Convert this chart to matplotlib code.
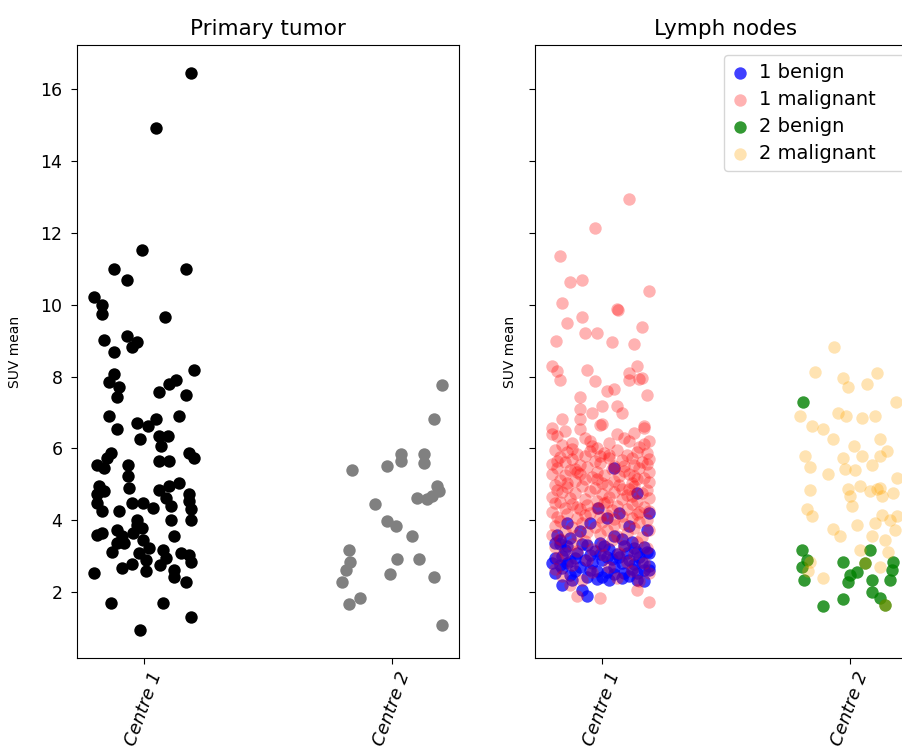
import matplotlib
matplotlib.use("Agg")
import matplotlib.pyplot as plt

# ---------------- data ----------------
centres = ["Centre 1", "Centre 2"]
titles = ["Primary tumor", "Lymph nodes"]
ylabel = "SUV mean"
yticks = [2, 4, 6, 8, 10, 12, 14, 16]

# Primary tumor, Centre 1 (value, jitter offset)
pt_c1_y = [16.45, 14.93, 11.53, 11.0, 11.0, 10.69, 10.21, 9.98, 9.74, 9.65, 9.02, 9.14, 8.97,
           8.81, 8.69, 8.18, 8.07, 7.84, 7.70, 7.42, 7.58, 7.79, 7.90, 7.49, 6.90, 6.55, 6.72,
           6.62, 6.83, 6.90, 6.25, 6.34, 6.34, 6.06, 5.65, 5.65, 5.88, 5.74, 5.88, 5.74, 5.55,
           5.46, 5.55, 5.23, 4.90, 4.95, 4.72, 4.81, 4.48, 4.25, 4.25, 4.48, 4.48, 4.34, 4.85,
           4.95, 5.04, 4.62, 4.39, 4.02, 4.72, 4.53, 4.30, 4.02, 4.02, 3.78, 3.60, 3.64, 3.74,
           3.55, 3.37, 3.13, 3.37, 3.64, 3.88, 3.46, 3.23, 3.09, 2.90, 2.58, 2.79, 2.67, 3.55,
           3.18, 2.95, 2.76, 2.62, 2.43, 3.09, 3.04, 2.85, 2.29, 2.53, 1.70, 1.70, 1.30, 0.94]
pt_c1_dx = [0.19, 0.05, -0.01, -0.12, 0.17, -0.07, -0.20, -0.17, -0.17, 0.085, -0.16, -0.07, -0.03,
            -0.05, -0.12, 0.20, -0.12, -0.14, -0.10, -0.11, 0.06, 0.10, 0.13, 0.17, -0.14, -0.11, -0.03,
            0.015, 0.05, 0.14, -0.015, 0.06, 0.095, 0.07, 0.06, 0.10, 0.18, 0.20, -0.135, -0.15, -0.19,
            -0.16, -0.065, -0.065, -0.06, -0.18, -0.19, -0.16, -0.19, -0.17, -0.10, -0.05, -0.005, 0.035, 0.06,
            0.10, 0.14, 0.09, 0.11, 0.11, 0.18, 0.18, 0.19, 0.19, -0.03, -0.01, -0.19, -0.17, -0.11,
            -0.09, -0.11, -0.13, -0.08, -0.045, -0.03, -0.005, 0.02, -0.02, 0.01, 0.01, -0.05, -0.09, 0.12,
            0.075, 0.09, 0.065, 0.12, 0.12, 0.15, 0.18, 0.19, 0.17, -0.20, -0.135, 0.075, 0.19, -0.015]

# Primary tumor, Centre 2
pt_c2_y = [7.76, 6.81, 5.40, 5.51, 5.84, 5.65, 5.84, 5.60, 4.95, 4.81, 4.62, 4.58, 4.67, 4.46,
           3.97, 3.83, 3.55, 3.18, 2.85, 2.62, 2.27, 2.93, 2.93, 2.51, 2.41, 1.84, 1.67, 1.08]
pt_c2_dx = [0.20, 0.17, -0.16, -0.02, 0.036, 0.036, 0.13, 0.13, 0.18, 0.19, 0.10, 0.14, 0.16, -0.07,
            -0.02, 0.016, 0.08, -0.175, -0.17, -0.185, -0.20, 0.02, 0.11, -0.01, 0.17, -0.13, -0.175, 0.20]

# Lymph nodes, Centre 1 benign
ln_c1_ben_y = [5.46, 4.76, 4.34, 4.20, 4.20, 3.92, 3.92, 3.83, 3.74, 3.37, 3.27, 3.09, 3.37, 3.55,
               3.27, 3.13, 3.09, 2.80, 2.80, 2.71, 2.80, 2.99, 2.99, 2.90, 2.99, 2.62, 2.53, 2.20,
               2.34, 2.43, 2.43, 2.34, 2.53, 2.34, 2.62, 2.06, 1.88, 3.45, 3.30, 3.20, 3.05, 2.95,
               2.88, 2.70, 2.65, 2.60, 2.85, 2.75, 2.50, 2.58, 3.15, 3.40, 3.00, 2.45, 3.60, 3.25,
               2.90, 4.05, 3.70,
               3.50, 3.35, 3.28, 3.18, 3.10, 3.02, 2.92, 2.82, 2.78, 2.68, 2.62, 2.55, 2.48, 2.40,
               2.30, 2.72, 3.22, 3.48, 2.96, 3.12, 2.36, 2.86, 3.34, 2.52, 3.05]
ln_c1_ben_dx = [0.05, 0.14, -0.015, 0.07, 0.19, -0.14, -0.05, 0.11, 0.18, -0.19, -0.14, -0.10, -0.01, 0.05,
                0.09, 0.14, 0.19, -0.20, -0.14, -0.09, -0.04, 0.02, 0.07, 0.11, 0.15, 0.19, -0.19, -0.16,
                -0.12, -0.06, 0.0, 0.03, 0.09, 0.14, 0.17, -0.08, -0.06, -0.17, -0.06, 0.03, 0.06, -0.11,
                0.0, 0.05, 0.12, -0.02, 0.16, -0.17, 0.05, -0.11, -0.03, 0.12, -0.16, 0.11, -0.18, 0.17,
                -0.07, 0.02, -0.09,
                -0.13, -0.08, 0.01, -0.15, 0.10, -0.05, 0.04, 0.08, 0.13, -0.16, -0.05, 0.02, -0.13, 0.08,
                0.17, 0.19, 0.13, 0.08, -0.19, 0.18, -0.02, -0.13, -0.17, 0.14, -0.01]

# Lymph nodes, Centre 1 malignant
ln_c1_mal_y = [12.94, 12.15, 11.37, 10.63, 10.69, 10.37, 10.05, 9.88, 9.85, 9.65, 9.48, 9.39, 9.21, 9.21,
               9.00, 8.95, 8.92, 8.30, 8.16, 7.90, 8.18, 8.30, 8.11, 7.90, 7.93, 7.95, 7.88, 7.60, 7.65,
               7.48, 7.42, 7.09, 7.00, 7.18, 7.18, 7.00, 6.81, 6.81, 6.64, 6.62, 6.58,
               6.39, 6.48, 6.53, 6.67, 6.39, 6.58, 6.20, 6.16, 6.20, 6.16, 6.20, 6.35, 6.05, 6.30, 6.02, 6.10,
               5.95, 5.90, 5.85, 5.92, 5.88, 5.96, 5.83, 5.90, 5.86, 5.75, 5.70, 5.78, 5.65, 5.72, 5.68,
               5.74, 5.62, 5.70, 5.58, 5.55, 5.60, 5.52, 5.55, 5.80, 5.63,
               5.45, 5.40, 5.48, 5.35, 5.42, 5.38, 5.46, 5.33, 5.28, 5.25, 5.30, 5.20, 5.27, 5.22, 5.30,
               5.18, 5.12, 5.08, 5.15, 5.05, 5.10, 5.03, 5.14, 5.06, 5.35,
               4.97, 4.92, 4.95, 4.90, 4.98, 4.88, 4.94, 4.85, 4.80, 4.76, 4.82, 4.72, 4.78, 4.70, 4.75,
               4.66, 4.62, 4.60, 4.65, 4.58, 4.55, 4.63, 4.52, 4.53, 4.86,
               4.48, 4.45, 4.42, 4.47, 4.40, 4.44, 4.38, 4.35, 4.30, 4.33, 4.28, 4.32, 4.25, 4.22, 4.18,
               4.20, 4.15, 4.12, 4.17, 4.08, 4.05, 4.10, 4.03, 4.06, 4.02,
               3.97, 3.93, 3.95, 3.90, 3.96, 3.85, 3.82, 3.80, 3.86, 3.78, 3.74, 3.70, 3.66, 3.72, 3.64,
               3.60, 3.58, 3.55, 3.52, 3.62,
               3.47, 3.42, 3.45, 3.40, 3.35, 3.30, 3.32, 3.25, 3.20, 3.22, 3.15, 3.10, 3.05, 3.08, 3.02,
               2.95, 2.90, 2.85, 2.80, 2.75, 2.70, 2.65, 2.60, 2.55, 2.52,
               2.45, 2.40, 2.35, 2.30, 2.06, 1.84, 1.73, 2.20, 1.90,
               6.28, 6.12, 5.98, 5.82, 5.66, 5.50, 5.42, 5.24, 5.16, 4.99, 4.84, 4.68, 4.50, 4.36,
               4.24, 4.14, 6.44, 6.08, 5.58, 5.04]
ln_c1_mal_dx = [0.11, -0.03, -0.17, -0.13, -0.08, 0.19, -0.16, 0.06, 0.065, -0.08, -0.14, 0.16, -0.07, -0.02,
                -0.185, 0.04, 0.13, -0.20, -0.18, -0.17, -0.06, 0.14, 0.11, 0.11, 0.15, 0.16, -0.03, 0.02, 0.05,
                0.18, -0.09, -0.09, -0.04, 0.0, 0.06, 0.08, -0.16, -0.09, -0.01, 0.17, -0.20,
                -0.20, -0.15, -0.09, 0.0, 0.06, 0.17, 0.19, -0.12, -0.05, 0.03, 0.11, -0.18, 0.15, 0.09, -0.02, -0.16,
                -0.19, -0.14, -0.10, -0.05, 0.01, 0.06, 0.10, 0.14, 0.18, -0.17, -0.12, -0.07, -0.03, 0.03, 0.08,
                0.12, 0.16, 0.19, -0.20, -0.09, -0.01, 0.05, 0.13, -0.01, -0.15,
                -0.18, -0.13, -0.06, -0.02, 0.04, 0.09, 0.15, 0.19, -0.20, -0.15, -0.09, -0.04, 0.01, 0.07, 0.11,
                0.17, -0.17, -0.11, -0.07, 0.0, 0.05, 0.12, 0.14, 0.19, -0.10,
                -0.19, -0.14, -0.08, -0.03, 0.02, 0.08, 0.13, 0.18, -0.16, -0.11, -0.05, 0.0, 0.05, 0.10, 0.16,
                -0.20, -0.13, -0.07, 0.03, 0.08, 0.14, 0.19, -0.17, -0.02, 0.11,
                -0.19, -0.12, -0.06, 0.01, 0.06, 0.12, 0.17, -0.15, -0.09, -0.02, 0.04, 0.10, 0.19, -0.20, -0.14,
                -0.05, 0.02, 0.08, 0.14, -0.18, -0.10, -0.01, 0.05, 0.12, 0.18,
                -0.17, -0.08, 0.0, 0.09, 0.15, -0.19, -0.12, -0.03, 0.05, 0.13, 0.19, -0.15, -0.06, 0.02, 0.10,
                -0.20, -0.10, 0.06, 0.16, -0.01,
                -0.17, -0.07, 0.04, 0.14, -0.12, 0.0, 0.09, -0.19, -0.04, 0.18, -0.10, 0.07, 0.13, -0.15, 0.01,
                -0.18, -0.06, 0.10, 0.17, -0.12, 0.03, -0.19, 0.12, -0.04, 0.19,
                -0.16, 0.06, -0.08, 0.15, 0.14, -0.01, 0.19, -0.13, -0.10,
                -0.07, 0.17, -0.12, 0.03, -0.18, 0.09, -0.11, 0.13, -0.02, 0.07, -0.18, 0.12, 0.02, -0.10,
                0.15, -0.07, 0.13, -0.04, 0.18, -0.14]

# Lymph nodes, Centre 2 benign
ln_c2_ben_y = [7.29, 3.18, 2.90, 2.71, 2.34, 2.85, 3.18, 2.48, 2.29, 2.57, 2.81, 2.34, 2.01, 1.83,
               1.64, 1.80, 1.60, 2.34, 2.85, 2.62]
ln_c2_ben_dx = [-0.19, -0.195, -0.175, -0.195, -0.185, -0.03, 0.08, 0.0, -0.01, 0.03, 0.06, 0.09, 0.09, 0.12,
                0.14, -0.03, -0.11, 0.16, 0.175, 0.17]

# Lymph nodes, Centre 2 malignant
ln_c2_mal_y = [8.81, 8.13, 7.97, 7.70, 8.09, 7.79, 7.29, 6.90, 6.62, 6.53, 7.00, 6.90, 6.86, 6.90, 6.25,
               6.25, 6.06, 5.92, 5.80, 5.74, 5.80, 5.79, 5.49, 5.30, 5.43, 5.39, 5.55, 5.18, 4.85, 4.87,
               4.95, 4.81, 4.87, 4.89, 4.76, 4.67, 4.67, 4.39, 4.30, 4.11, 4.16, 4.02, 4.11, 3.88, 3.92,
               3.76, 3.55, 3.55, 3.46, 3.74, 3.18, 3.13, 2.85, 2.71, 2.39, 1.64, 2.80, 2.60]
ln_c2_mal_dx = [-0.065, -0.14, -0.03, -0.01, 0.11, 0.07, 0.185, -0.20, -0.155, -0.11, -0.05, -0.015, 0.05, 0.10, -0.07,
                0.12, 0.016, 0.15, -0.18, -0.03, 0.05, 0.12, -0.16, -0.09, -0.02, 0.02, 0.09, 0.19, -0.16, -0.01,
                0.04, 0.08, 0.11, 0.12, 0.175, 0.0, 0.13, 0.007, -0.175, -0.155, 0.13, 0.16, 0.19, 0.03, 0.10,
                -0.07, -0.04, 0.09, 0.14, 0.18, 0.04, 0.155, -0.16, 0.12, -0.11, 0.14, 0.06, -0.17]

legend_labels = ["1 benign", "1 malignant", "2 benign", "2 malignant"]

# ---------------- figure ----------------
fig = plt.figure(figsize=(9.03, 7.51), dpi=100)
ax1 = fig.add_axes([0.0853, 0.1238, 0.423, 0.816])
ax2 = fig.add_axes([0.5925, 0.1238, 0.423, 0.816], sharey=ax1)

S = 80
ax1.scatter([0 + d for d in pt_c1_dx], pt_c1_y, s=S, color="black", linewidths=0)
ax1.scatter([1 + d for d in pt_c2_dx], pt_c2_y, s=S, color="grey", linewidths=0)

ax2.scatter([0 + d for d in ln_c1_ben_dx], ln_c1_ben_y, s=S, color="blue", alpha=0.75,
            linewidths=0, label=legend_labels[0])
ax2.scatter([0 + d for d in ln_c1_mal_dx], ln_c1_mal_y, s=S, color="red", alpha=0.3,
            linewidths=0, label=legend_labels[1])
ax2.scatter([1 + d for d in ln_c2_ben_dx], ln_c2_ben_y, s=S, color="green", alpha=0.8,
            linewidths=0, label=legend_labels[2])
ax2.scatter([1 + d for d in ln_c2_mal_dx], ln_c2_mal_y, s=S, color="orange", alpha=0.3,
            linewidths=0, label=legend_labels[3])

for ax, title in zip((ax1, ax2), titles):
    ax.set_xlim(-0.27, 1.27)
    ax.set_xticks([0, 1])
    ax.set_xticklabels(centres, rotation=70, fontstyle="italic", fontsize=13)
    ax.set_title(title, fontsize=15.5, pad=7)
    ax.set_ylabel(ylabel, fontsize=10)
    ax.tick_params(axis="y", labelsize=12.5, length=4.5, pad=6)
    ax.tick_params(axis="x", length=4.5)

ax1.set_yticks(yticks)
ax2.tick_params(axis="y", labelleft=False)
ax1.yaxis.set_label_coords(-0.145, 0.5)
ax2.yaxis.set_label_coords(-0.046, 0.5)

ax2.legend(loc="upper left", bbox_to_anchor=(0.496, 0.984, 0.49, 0.0), mode="expand",
           fontsize=14, handlelength=0.8, handletextpad=0.6, borderpad=0.4,
           labelspacing=0.42, borderaxespad=0.0)

fig.savefig("out.png", dpi=100)
